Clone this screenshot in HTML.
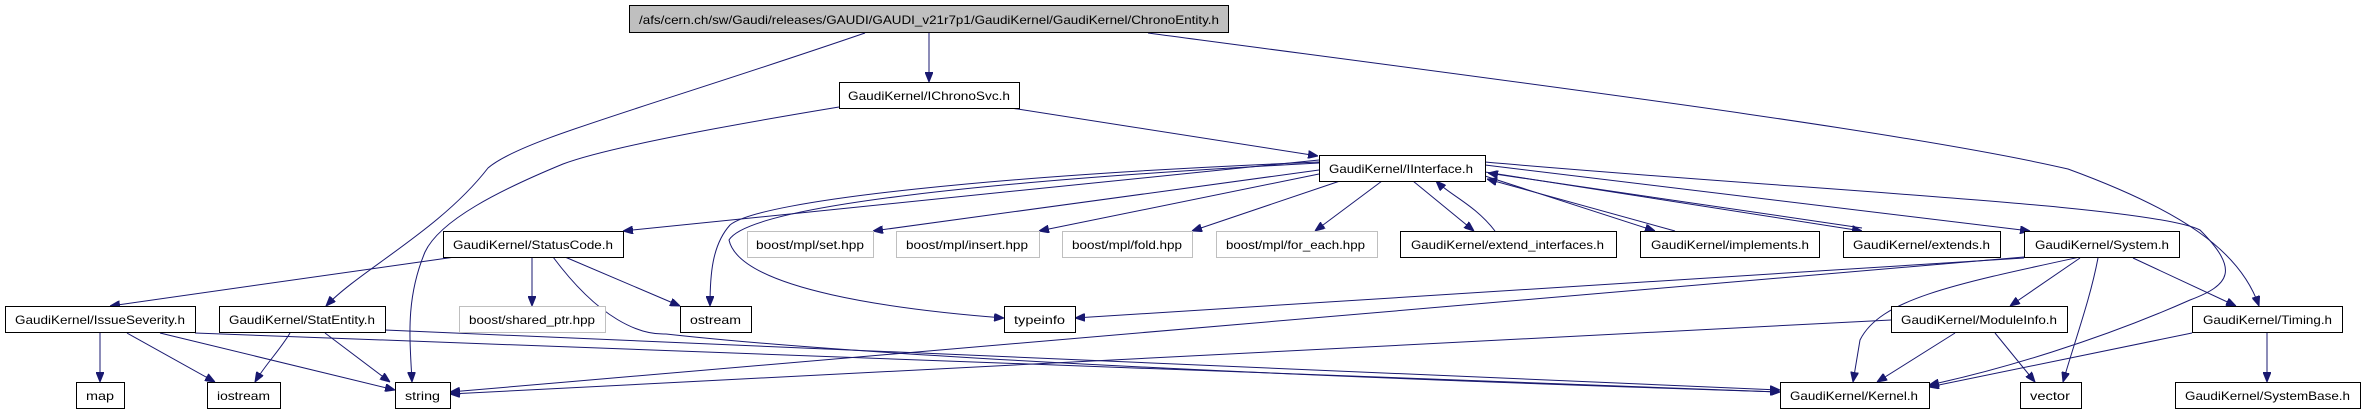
<!DOCTYPE html>
<html><head><meta charset="utf-8"><style>
html,body{margin:0;padding:0;background:#fff;width:2364px;height:410px;overflow:hidden}
svg{display:block}
text{font-family:"Liberation Sans",sans-serif;font-size:12px;fill:#000}
.n{fill:#fff;stroke:#000;stroke-width:1}
.g{fill:#fff;stroke:#bfbfbf;stroke-width:1}
.e{fill:none;stroke:#191970;stroke-width:1}
</style></head><body>
<svg width="2364" height="410" viewBox="0 0 2364 410" xmlns="http://www.w3.org/2000/svg">
<defs><marker id="a" markerWidth="10" markerHeight="8" refX="10" refY="4" orient="auto" markerUnits="userSpaceOnUse"><path d="M0,0 L10,4 L0,8 z" fill="#191970" stroke="#191970"/></marker></defs>
<g class="e" marker-end="url(#a)">
<path d="M929,33 L929,82"/>
<path d="M865,33 C640,110 520,140 488,168 C440,230 360,270 326,306"/>
<path d="M1148,33 C1500,80 1900,130 2068,169 C2180,210 2240,250 2259,306"/>
<path d="M1011,108 L1318,156"/>
<path d="M839,107 C700,130 600,150 563,164 C500,190 440,220 425,252 C405,300 410,340 412,382"/>
<path d="M1319,160 L623,231"/>
<path d="M1319,162 C1000,175 760,200 730,225 C712,245 710,275 710,306"/>
<path d="M1319,163 C1000,180 750,205 729,240 C740,290 900,310 1004,318"/>
<path d="M1319,170 L873,231"/>
<path d="M1319,174 L1039,231"/>
<path d="M1340,181 L1192,231"/>
<path d="M1382,181 L1315,231"/>
<path d="M1413,181 L1474,231"/>
<path d="M1495,231 C1475,205 1450,195 1436,181"/>
<path d="M1485,176 L1655,231"/>
<path d="M1675,231 L1487,179"/>
<path d="M1485,172 L1862,231"/>
<path d="M1862,228 L1488,173"/>
<path d="M1485,165 L2030,231"/>
<path d="M1485,162 C1800,190 2150,205 2200,230 C2240,270 2230,285 2190,300 C2100,340 2000,370 1929,385"/>
<path d="M455,257 L110,306"/>
<path d="M532,257 L532,306"/>
<path d="M565,257 L680,306"/>
<path d="M553,257 C600,320 640,335 666,334 C900,360 1400,380 1780,392"/>
<path d="M100,333 L100,382"/>
<path d="M127,333 L215,382"/>
<path d="M160,333 L395,390"/>
<path d="M195,333 L1780,392"/>
<path d="M290,333 C280,350 265,365 255,382"/>
<path d="M325,333 L390,382"/>
<path d="M385,330 L1780,390"/>
<path d="M2024,257 L450,392"/>
<path d="M1891,320 L450,394"/>
<path d="M2024,258 L1075,318"/>
<path d="M2080,257 C1950,285 1880,300 1860,340 L1853,382"/>
<path d="M2080,258 L2010,306"/>
<path d="M2098,258 C2090,300 2075,340 2063,382"/>
<path d="M2133,258 L2236,306"/>
<path d="M1955,333 L1877,382"/>
<path d="M1995,333 L2035,382"/>
<path d="M2192,333 L1929,387"/>
<path d="M2267,333 L2267,382"/>
</g>
<rect x="629.5" y="5.5" width="599" height="27" fill="#bfbfbf" stroke="#000"/>
<text x="639" y="24" textLength="580" lengthAdjust="spacingAndGlyphs">/afs/cern.ch/sw/Gaudi/releases/GAUDI/GAUDI_v21r7p1/GaudiKernel/GaudiKernel/ChronoEntity.h</text>
<g>
<rect class="n" x="839.5" y="82.5" width="180" height="26"/><text x="848" y="100" textLength="162" lengthAdjust="spacingAndGlyphs">GaudiKernel/IChronoSvc.h</text>
<rect class="n" x="1319.5" y="155.5" width="166" height="26"/><text x="1329" y="173" textLength="144" lengthAdjust="spacingAndGlyphs">GaudiKernel/IInterface.h</text>
<rect class="n" x="443.5" y="231.5" width="180" height="26"/><text x="453" y="249" textLength="160" lengthAdjust="spacingAndGlyphs">GaudiKernel/StatusCode.h</text>
<rect class="g" x="747.5" y="231.5" width="126" height="26"/><text x="756" y="249" textLength="108" lengthAdjust="spacingAndGlyphs">boost/mpl/set.hpp</text>
<rect class="g" x="896.5" y="231.5" width="143" height="26"/><text x="906" y="249" textLength="122" lengthAdjust="spacingAndGlyphs">boost/mpl/insert.hpp</text>
<rect class="g" x="1062.5" y="231.5" width="130" height="26"/><text x="1072" y="249" textLength="110" lengthAdjust="spacingAndGlyphs">boost/mpl/fold.hpp</text>
<rect class="g" x="1216.5" y="231.5" width="161" height="26"/><text x="1226" y="249" textLength="139" lengthAdjust="spacingAndGlyphs">boost/mpl/for_each.hpp</text>
<rect class="n" x="1400.5" y="231.5" width="216" height="26"/><text x="1411" y="249" textLength="193" lengthAdjust="spacingAndGlyphs">GaudiKernel/extend_interfaces.h</text>
<rect class="n" x="1640.5" y="231.5" width="179" height="26"/><text x="1651" y="249" textLength="158" lengthAdjust="spacingAndGlyphs">GaudiKernel/implements.h</text>
<rect class="n" x="1843.5" y="231.5" width="157" height="26"/><text x="1853" y="249" textLength="137" lengthAdjust="spacingAndGlyphs">GaudiKernel/extends.h</text>
<rect class="n" x="2024.5" y="231.5" width="155" height="26"/><text x="2035" y="249" textLength="134" lengthAdjust="spacingAndGlyphs">GaudiKernel/System.h</text>
<rect class="n" x="5.5" y="306.5" width="190" height="26"/><text x="15" y="324" textLength="170" lengthAdjust="spacingAndGlyphs">GaudiKernel/IssueSeverity.h</text>
<rect class="n" x="219.5" y="306.5" width="166" height="26"/><text x="229" y="324" textLength="146" lengthAdjust="spacingAndGlyphs">GaudiKernel/StatEntity.h</text>
<rect class="g" x="459.5" y="306.5" width="146" height="26"/><text x="469" y="324" textLength="126" lengthAdjust="spacingAndGlyphs">boost/shared_ptr.hpp</text>
<rect class="n" x="680.5" y="306.5" width="71" height="26"/><text x="690" y="324" textLength="51" lengthAdjust="spacingAndGlyphs">ostream</text>
<rect class="n" x="1004.5" y="306.5" width="71" height="26"/><text x="1014" y="324" textLength="51" lengthAdjust="spacingAndGlyphs">typeinfo</text>
<rect class="n" x="1891.5" y="306.5" width="176" height="26"/><text x="1901" y="324" textLength="156" lengthAdjust="spacingAndGlyphs">GaudiKernel/ModuleInfo.h</text>
<rect class="n" x="2192.5" y="306.5" width="150" height="26"/><text x="2203" y="324" textLength="129" lengthAdjust="spacingAndGlyphs">GaudiKernel/Timing.h</text>
<rect class="n" x="76.5" y="382.5" width="48" height="26"/><text x="86" y="400" textLength="28" lengthAdjust="spacingAndGlyphs">map</text>
<rect class="n" x="207.5" y="382.5" width="73" height="26"/><text x="217" y="400" textLength="53" lengthAdjust="spacingAndGlyphs">iostream</text>
<rect class="n" x="395.5" y="382.5" width="55" height="26"/><text x="405" y="400" textLength="35" lengthAdjust="spacingAndGlyphs">string</text>
<rect class="n" x="1780.5" y="382.5" width="149" height="26"/><text x="1790" y="400" textLength="128" lengthAdjust="spacingAndGlyphs">GaudiKernel/Kernel.h</text>
<rect class="n" x="2020.5" y="382.5" width="61" height="26"/><text x="2030" y="400" textLength="40" lengthAdjust="spacingAndGlyphs">vector</text>
<rect class="n" x="2175.5" y="382.5" width="185" height="26"/><text x="2185" y="400" textLength="165" lengthAdjust="spacingAndGlyphs">GaudiKernel/SystemBase.h</text>
</g>
</svg>
</body></html>
